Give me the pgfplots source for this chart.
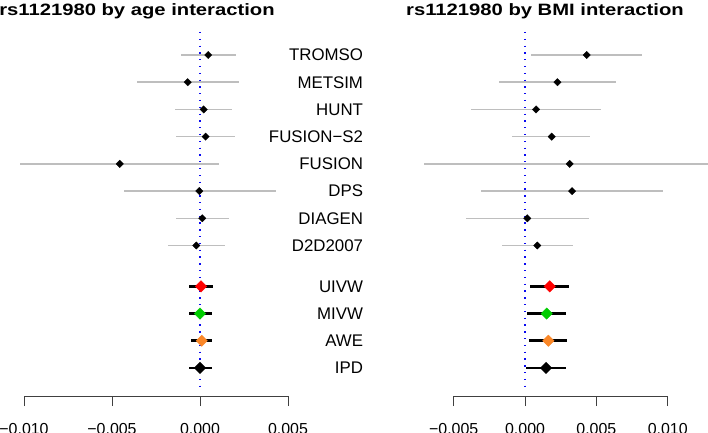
\documentclass[border=0pt]{standalone}
\usepackage{fontspec}
\setmainfont{Liberation Sans}
\newfontfamily\titlefont{Liberation Sans}[FakeStretch=1.23]
\usepackage{pgfplots}
\usepackage{pgfplotstable}
\pgfplotsset{compat=1.18}

\definecolor{cigray}{RGB}{190,190,190}
\definecolor{dotblue}{RGB}{10,10,240}
\definecolor{mgreen}{RGB}{0,205,0}
\definecolor{morange}{RGB}{250,135,40}

% square diamond, vertices at +-r
\pgfdeclareplotmark{rdia}{%
  \pgfpathmoveto{\pgfqpoint{0pt}{\pgfplotmarksize}}%
  \pgfpathlineto{\pgfqpoint{\pgfplotmarksize}{0pt}}%
  \pgfpathlineto{\pgfqpoint{0pt}{-\pgfplotmarksize}}%
  \pgfpathlineto{\pgfqpoint{-\pgfplotmarksize}{0pt}}%
  \pgfpathclose
  \pgfusepathqfillstroke}

% study estimates with 95% CI, age interaction
\pgfplotstableread{
row est lo hi
1 0.00047 -0.00108 0.00203
2 -0.00070 -0.00360 0.00222
3 0.00021 -0.00142 0.00180
4 0.00032 -0.00136 0.00199
5 -0.00456 -0.01020 0.00108
6 -0.00004 -0.00432 0.00432
7 0.00013 -0.00136 0.00167
8 -0.00021 -0.00180 0.00142
}\agestudy
\pgfplotstableread{
row est lo hi cls
9.5 0.00006 -0.00063 0.00076 u
10.5 0.00000 -0.00063 0.00066 m
11.5 0.00010 -0.00050 0.00070 a
12.5 0.00000 -0.00060 0.00068 i
}\agemeta

% BMI interaction
\pgfplotstableread{
row est lo hi
1 0.00432 0.00040 0.00823
2 0.00227 -0.00180 0.00636
3 0.00077 -0.00380 0.00533
4 0.00187 -0.00089 0.00458
5 0.00313 -0.00706 0.01332
6 0.00330 -0.00310 0.00970
7 0.00016 -0.00414 0.00447
8 0.00086 -0.00163 0.00337
}\bmistudy
\pgfplotstableread{
row est lo hi cls
9.5 0.00173 0.00037 0.00311 u
10.5 0.00152 0.00016 0.00288 m
11.5 0.00164 0.00028 0.00297 a
12.5 0.00147 0.00009 0.00290 i
}\bmimeta

\pgfplotsset{
  forest/.style={
    scale only axis, height=364bp,
    ymin=0.155, ymax=13.53, y dir=reverse,
    clip=false,
    axis x line*=bottom, axis y line*=right,
    x axis line style={-, black!75, line width=0.8bp},
    y axis line style={draw=none},
    ytick style={draw=none},
    tick align=outside, major tick length=10bp,
    xtick style={black!75, line width=0.8bp},
    xticklabel style={font=\fontsize{16}{19}\selectfont, anchor=north, inner sep=0pt, yshift=-17bp},
    yticklabel style={font=\fontsize{16.9}{19}\selectfont, anchor=east, inner sep=0pt},
    scaled x ticks=false,
  },
  ci/.style={only marks, mark=none,
    error bars/x dir=both, error bars/x explicit, error bars/error mark=none,
    error bars/error bar style={#1}},
  study/.style={only marks, mark=rdia, mark size=3.7bp,
    mark options={fill=black, draw=black, line width=0.3bp}},
  meta/.style={only marks, scatter, scatter src=explicit symbolic,
    scatter/classes={
      u={mark=rdia, mark size=5.7bp, draw=red, fill=red},
      m={mark=rdia, mark size=5.7bp, draw=mgreen, fill=mgreen},
      a={mark=rdia, mark size=5.7bp, draw=morange, fill=morange},
      i={mark=rdia, mark size=5.7bp, draw=black, fill=black}}},
}

\begin{document}
\begin{tikzpicture}
\begin{axis}[forest, width=264bp, xmin=-0.010, xmax=0.005,
  at={(24bp,37bp)}, anchor=south west,
  xtick={-0.010,-0.005,0,0.005},
  xticklabels={−0.010,−0.005,0.000,0.005},
  ytick={1,2,3,4,5,6,7,8,9.5,10.5,11.5,12.5},
  yticklabels={TROMSO,METSIM,HUNT,FUSION−S2,FUSION,DPS,DIAGEN,D2D2007,UIVW,MIVW,AWE,IPD},
  yticklabel style={xshift=65.2bp}]
  \addplot[ci={cigray, line width=1.5bp}] table[x=est, y=row,
    x error plus expr=\thisrow{hi}-\thisrow{est},
    x error minus expr=\thisrow{est}-\thisrow{lo}] {\agestudy};
  \addplot[dotblue, line width=1.4bp, dash pattern=on 1.3bp off 5.5bp] coordinates {(0,0.155) (0,13.24)};
  \addplot[ci={black, line width=2.6bp}] table[x=est, y=row,
    x error plus expr=\thisrow{hi}-\thisrow{est},
    x error minus expr=\thisrow{est}-\thisrow{lo}] {\agemeta};
  \addplot[study] table[x=est, y=row] {\agestudy};
  \addplot[meta] table[x=est, y=row, meta=cls] {\agemeta};
  \node[anchor=base, font=\titlefont\bfseries\fontsize{16.5}{20}\selectfont]
    at (axis cs:-0.00358,-0.433) {rs1121980 by age interaction};
\end{axis}
\begin{axis}[forest, width=214bp, xmin=-0.005, xmax=0.010,
  at={(453.7bp,37bp)}, anchor=south west,
  xtick={-0.005,0,0.005,0.010},
  xticklabels={−0.005,0.000,0.005,0.010},
  ytick=\empty]
  \addplot[ci={cigray, line width=1.5bp}] table[x=est, y=row,
    x error plus expr=\thisrow{hi}-\thisrow{est},
    x error minus expr=\thisrow{est}-\thisrow{lo}] {\bmistudy};
  \addplot[dotblue, line width=1.4bp, dash pattern=on 1.3bp off 5.5bp] coordinates {(0,0.155) (0,13.24)};
  \addplot[ci={black, line width=2.6bp}] table[x=est, y=row,
    x error plus expr=\thisrow{hi}-\thisrow{est},
    x error minus expr=\thisrow{est}-\thisrow{lo}] {\bmimeta};
  \addplot[study] table[x=est, y=row] {\bmistudy};
  \addplot[meta] table[x=est, y=row, meta=cls] {\bmimeta};
  \node[anchor=base, font=\titlefont\bfseries\fontsize{16.5}{20}\selectfont]
    at (axis cs:0.0014,-0.433) {rs1121980 by BMI interaction};
\end{axis}
\pgfresetboundingbox
\useasboundingbox (0,0) rectangle (708bp,433bp);
\end{tikzpicture}
\end{document}
